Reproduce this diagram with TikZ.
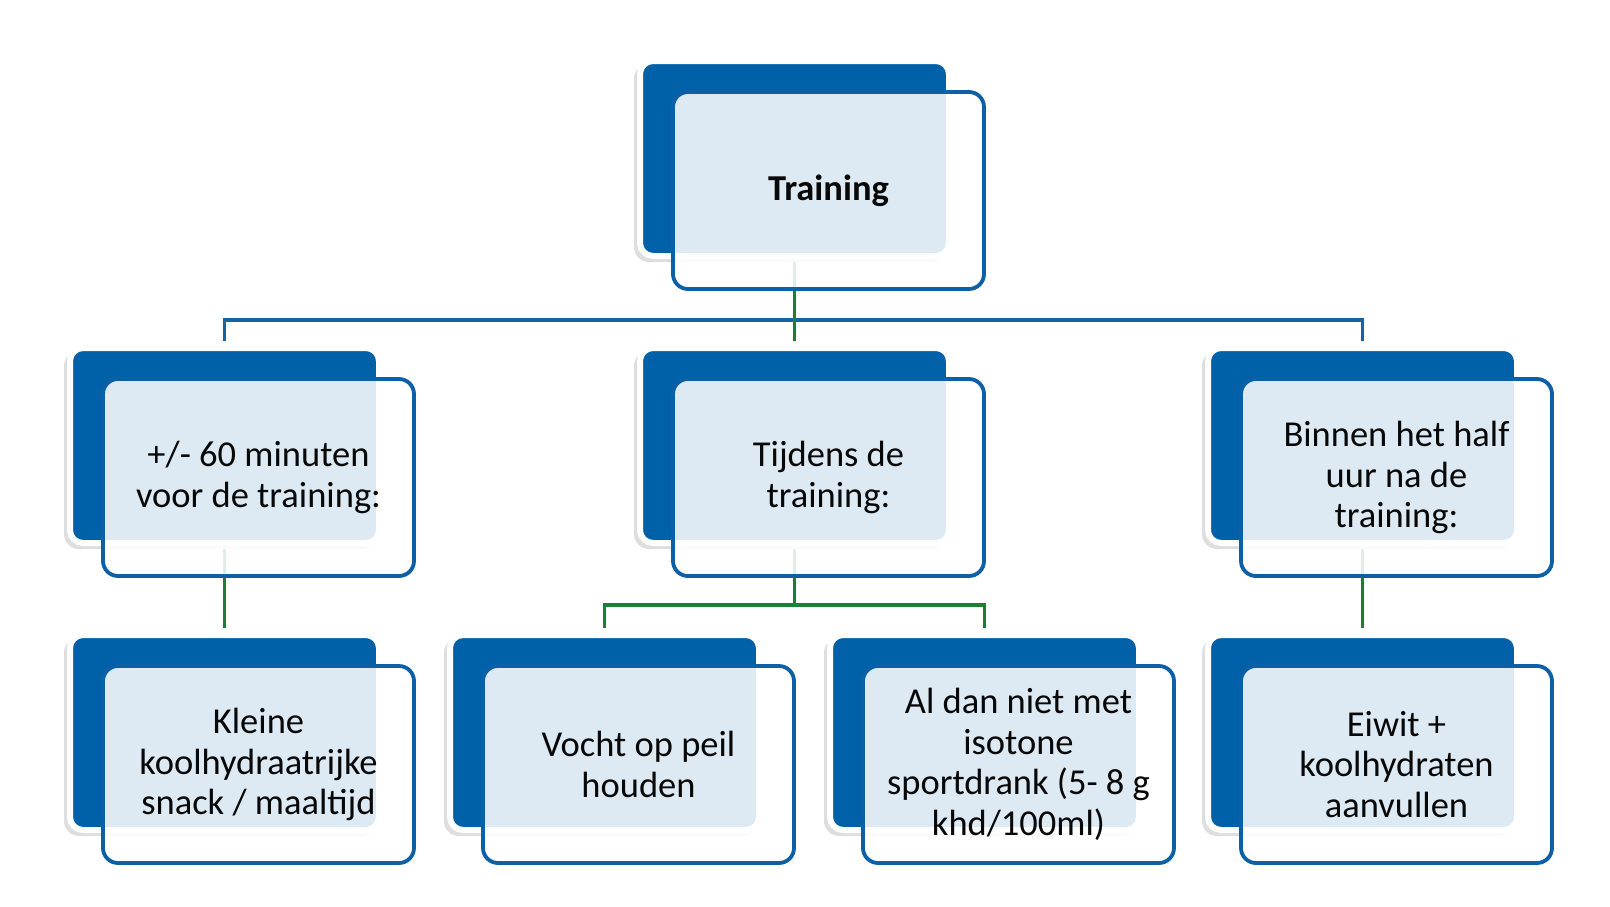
\documentclass[tikz,border=0pt]{standalone}
\usepackage{fontspec}
\setmainfont{Carlito}
\usetikzlibrary{calc}
\pgfdeclarelayer{bg}
\pgfsetlayers{bg,main}
\definecolor{darkblue}{RGB}{0,97,168}
\definecolor{edgeblue}{RGB}{14,96,166}
\definecolor{lineblue}{RGB}{20,100,168}
\definecolor{linegreen}{RGB}{26,128,56}
\definecolor{txt}{RGB}{8,8,8}
\tikzset{
  shadowbox/.style={rectangle, rounded corners=15pt, fill=black!13, draw=none,
    minimum width=312pt, minimum height=198pt, inner sep=0pt, outer sep=0pt, anchor=north west},
  darkbox/.style={rectangle, rounded corners=13pt, fill=darkblue, draw=white, line width=6pt,
    minimum width=309pt, minimum height=195pt, inner sep=0pt, outer sep=0pt, anchor=north west},
  frontbox/.style={rectangle, rounded corners=15pt, fill=white, fill opacity=0.87, text opacity=1,
    draw=edgeblue, draw opacity=1, line width=3.8pt,
    minimum width=311pt, minimum height=197pt, inner sep=0pt, outer sep=0pt, anchor=north west,
    align=center, text=txt, font=\fontsize{36.5}{40.5}\selectfont},
  blueln/.style={draw=lineblue, line width=3.8pt},
  greenln/.style={draw=linegreen, line width=3.8pt},
}
% #1 name, #2 x, #3 y, #4 text
\newcommand{\twobox}[4]{%
  \node[shadowbox] (#1s) at (#2-8,#3+1) {};
  \node[darkbox] (#1d) at (#2-2,#3-2) {};
  \node[frontbox] (#1) at (#2+31,#3+29) {#4};
}
\begin{document}
\begin{tikzpicture}[x=1pt,y=-1pt]
\useasboundingbox (0,0) rectangle (1610,906);

\twobox{T}{642}{63}{\textbf{Training}}
\twobox{A}{72}{350}{+/- 60 minuten\\voor de training:}
\twobox{B}{642}{350}{Tijdens de\\training:}
\twobox{C}{1210}{350}{Binnen het half\\uur na de\\training:}
\twobox{A2}{72}{637}{Kleine\\koolhydraatrijke\\snack / maaltijd}
\twobox{B1}{452}{637}{Vocht op peil\\houden}
\twobox{B2}{832}{637}{Al dan niet met\\isotone\\sportdrank (5- 8 g\\khd/100ml)}
\twobox{C2}{1210}{637}{Eiwit +\\koolhydraten\\aanvullen}

\begin{pgfonlayer}{bg}
  \fill[white] (0,0) rectangle (1610,906);
  \draw[blueln, shorten >=7pt] (Td.south) -- ++(0,64) -| (Ad.north);
  \draw[blueln, shorten >=7pt] (Td.south) -- ++(0,64) -| (Cd.north);
  \draw[greenln, shorten >=7pt] (Td.south) -- (Bd.north);
  \draw[greenln, shorten >=7pt] (Ad.south) -- (A2d.north);
  \draw[greenln, shorten >=7pt] (Cd.south) -- (C2d.north);
  \draw[greenln, shorten >=7pt] (Bd.south) -- ++(0,62) -| (B1d.north);
  \draw[greenln, shorten >=7pt] (Bd.south) -- ++(0,62) -| (B2d.north);
\end{pgfonlayer}
\end{tikzpicture}
\end{document}
